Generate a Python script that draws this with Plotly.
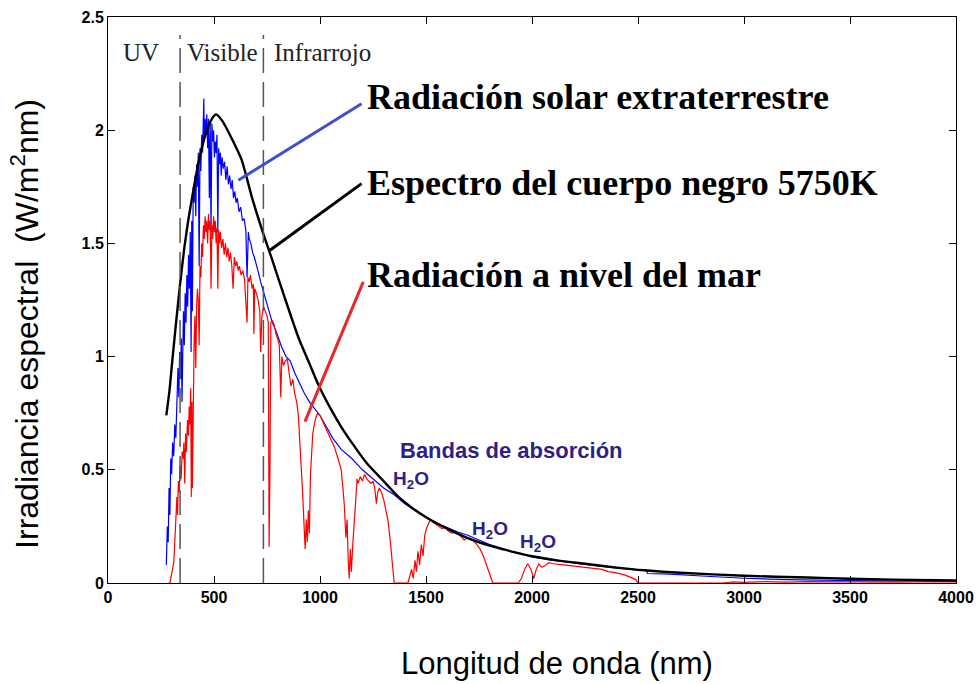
import plotly.graph_objects as go

# espectro del cuerpo negro 5750K
bb_nm = [275, 290, 300, 320, 340, 360, 380, 400, 430, 460, 490, 510, 540, 580, 630, 680, 730, 770, 830,
         900, 950, 990, 1050, 1100, 1150, 1220, 1300, 1370, 1430, 1510, 1600, 1680, 1750, 1830, 1900, 2000,
         2120, 2250, 2400, 2530, 2700, 3000, 3300, 3500, 3700, 4000]
bb_val = [0.74, 0.85, 0.95, 1.14, 1.32, 1.48, 1.61, 1.72, 1.87, 1.98, 2.05, 2.07, 2.04, 1.97, 1.87, 1.70,
          1.55, 1.44, 1.27, 1.08, 0.97, 0.88, 0.77, 0.69, 0.62, 0.53, 0.45, 0.38, 0.335, 0.285, 0.24,
          0.205, 0.18, 0.157, 0.14, 0.118, 0.10, 0.085, 0.068, 0.056, 0.045, 0.032, 0.024, 0.019, 0.015,
          0.011]

# radiacion solar extraterrestre
ext_nm = [275, 280, 284, 288, 292, 296, 300, 305, 310, 315, 320, 325, 330, 334, 338, 342, 346, 349, 352,
          356, 360, 364, 368, 372, 376, 380, 384, 388, 392, 395, 398, 402, 406, 410, 414, 418, 422, 426,
          430, 434, 438, 442, 446, 450, 452, 454, 458, 462, 466, 470, 474, 478, 482, 486, 490, 494, 498,
          502, 506, 510, 514, 518, 522, 526, 530, 534, 538, 544, 550, 556, 562, 568, 574, 580, 586, 592,
          598, 604, 610, 618, 626, 634, 642, 650, 656, 662, 666, 674, 682, 690, 700, 710, 720, 730, 740,
          750, 760, 775, 790, 805, 820, 840, 860, 880, 900, 925, 950, 975, 1000, 1030, 1060, 1100, 1150,
          1200, 1250, 1300, 1350, 1400, 1450, 1500, 1550, 1600, 1650, 1700, 1750, 1800, 1850, 1900, 1950,
          2000, 2100, 2200, 2300, 2400, 2500, 2540, 2545, 2650, 2800, 3000, 3200, 3400, 3600, 3800, 4000]
ext_val = [0.08, 0.25, 0.18, 0.42, 0.30, 0.55, 0.48, 0.62, 0.56, 0.70, 0.64, 0.78, 0.95, 0.82, 1.02, 0.90,
           1.08, 0.80, 1.12, 1.20, 1.05, 1.28, 1.15, 1.36, 1.22, 1.45, 1.30, 1.55, 1.02, 1.60, 1.20, 1.75,
           1.68, 1.80, 1.62, 1.85, 1.75, 1.90, 1.40, 1.92, 1.82, 1.98, 1.90, 2.08, 2.14, 1.95, 2.05, 1.98,
           2.07, 1.92, 2.05, 1.70, 2.04, 1.55, 2.03, 1.95, 2.00, 1.88, 1.95, 1.90, 1.98, 1.55, 1.92, 1.85,
           1.90, 1.80, 1.88, 1.83, 1.86, 1.78, 1.84, 1.76, 1.80, 1.74, 1.78, 1.70, 1.73, 1.68, 1.70, 1.64,
           1.66, 1.60, 1.61, 1.56, 1.35, 1.55, 1.52, 1.50, 1.46, 1.44, 1.41, 1.37, 1.33, 1.30, 1.27, 1.23,
           1.20, 1.15, 1.12, 1.08, 1.04, 1.00, 0.98, 0.93, 0.89, 0.84, 0.80, 0.77, 0.74, 0.69, 0.64, 0.59,
           0.55, 0.50, 0.46, 0.42, 0.39, 0.35, 0.32, 0.29, 0.265, 0.245, 0.225, 0.21, 0.19, 0.17, 0.155,
           0.14, 0.13, 0.115, 0.10, 0.088, 0.076, 0.066, 0.058, 0.055, 0.042, 0.039, 0.031, 0.021, 0.015,
           0.011, 0.009, 0.008, 0.007]

# radiacion a nivel del mar
sea_nm = [285, 292, 300, 310, 315, 320, 325, 328, 332, 336, 340, 345, 350, 355, 358, 362, 366, 370, 375,
          379, 383, 387, 390, 393, 396, 398, 402, 406, 410, 414, 418, 422, 426, 430, 434, 438, 442, 446,
          450, 454, 458, 462, 466, 470, 474, 478, 482, 486, 490, 494, 498, 502, 506, 510, 514, 518, 522,
          526, 530, 536, 542, 548, 554, 560, 566, 572, 578, 584, 590, 596, 602, 608, 614, 620, 628, 636,
          644, 650, 656, 660, 666, 672, 680, 686, 688, 692, 700, 708, 716, 720, 726, 734, 742, 750, 756,
          760, 764, 768, 776, 784, 792, 800, 808, 815, 820, 828, 836, 846, 854, 863, 872, 880, 890, 898,
          905, 910, 918, 925, 930, 935, 940, 945, 950, 955, 960, 966, 973, 980, 989, 1000, 1010, 1020,
          1036, 1050, 1068, 1085, 1100, 1108, 1115, 1122, 1128, 1133, 1138, 1143, 1148, 1154, 1160, 1165,
          1170, 1175, 1180, 1190, 1200, 1210, 1220, 1230, 1240, 1250, 1258, 1266, 1272, 1280, 1290, 1300,
          1310, 1320, 1330, 1340, 1350, 1415, 1425, 1432, 1440, 1448, 1455, 1462, 1470, 1478, 1486, 1494,
          1502, 1510, 1520, 1530, 1545, 1560, 1575, 1590, 1605, 1620, 1640, 1660, 1680, 1700, 1720, 1740,
          1755, 1770, 1785, 1800, 1815, 1935, 1950, 1965, 1980, 1995, 2008, 2020, 2032, 2045, 2060, 2080,
          2100, 2150, 2200, 2250, 2300, 2330, 2360, 2400, 2440, 2470, 2490, 2500, 2900, 2950, 3000, 3100,
          3200, 3300, 3400, 3500, 3600, 3700, 3800, 3900, 4000]
sea_val = [0.0, 0.0, 0.04, 0.09, 0.18, 0.28, 0.38, 0.30, 0.45, 0.40, 0.52, 0.46, 0.58, 0.55, 0.62, 0.44,
           0.66, 0.58, 0.72, 0.65, 0.78, 0.70, 0.86, 0.38, 0.80, 0.42, 0.98, 1.05, 1.18, 0.95, 1.22, 1.30,
           1.25, 1.05, 1.40, 1.35, 1.50, 1.44, 1.58, 1.52, 1.62, 1.55, 1.60, 1.50, 1.63, 1.56, 1.60, 1.30,
           1.58, 1.52, 1.62, 1.55, 1.60, 1.50, 1.57, 1.30, 1.56, 1.50, 1.55, 1.48, 1.52, 1.45, 1.50, 1.44,
           1.48, 1.42, 1.46, 1.40, 1.30, 1.44, 1.40, 1.42, 1.38, 1.40, 1.36, 1.38, 1.34, 1.24, 1.15, 1.35,
           1.33, 1.36, 1.30, 1.32, 1.10, 1.30, 1.28, 1.25, 1.20, 1.02, 1.18, 1.22, 1.20, 1.18, 1.15, 0.16,
           0.50, 1.15, 1.16, 1.14, 1.10, 1.08, 1.05, 0.82, 1.00, 0.96, 0.98, 0.99, 0.93, 0.87, 0.90, 0.84,
           0.80, 0.74, 0.62, 0.55, 0.40, 0.25, 0.15, 0.28, 0.18, 0.32, 0.22, 0.48, 0.58, 0.66, 0.70, 0.73,
           0.75, 0.74, 0.72, 0.70, 0.67, 0.64, 0.60, 0.55, 0.50, 0.42, 0.34, 0.20, 0.28, 0.10, 0.02, 0.15,
           0.05, 0.16, 0.26, 0.35, 0.38, 0.46, 0.44, 0.47, 0.45, 0.48, 0.46, 0.45, 0.44, 0.45, 0.42, 0.35,
           0.40, 0.42, 0.40, 0.37, 0.32, 0.28, 0.20, 0.10, 0.0, 0.0, 0.03, 0.06, 0.02, 0.10, 0.05, 0.14,
           0.08, 0.17, 0.12, 0.21, 0.24, 0.26, 0.28, 0.27, 0.26, 0.25, 0.24, 0.245, 0.23, 0.22, 0.225, 0.21,
           0.19, 0.20, 0.19, 0.17, 0.15, 0.12, 0.08, 0.04, 0.0, 0.0, 0.02, 0.06, 0.085, 0.06, 0.02, 0.06,
           0.085, 0.07, 0.075, 0.09, 0.085, 0.08, 0.075, 0.07, 0.065, 0.06, 0.05, 0.045, 0.035, 0.025,
           0.015, 0.0, 0.0, 0.005, 0.003, 0.006, 0.004, 0.006, 0.005, 0.004, 0.006, 0.004, 0.005, 0.004,
           0.005]

band_edges = [340, 733]
band_names = ["UV", "Visible", "Infrarrojo"]
band_x = [156, 538, 1014]

x_ticks = [0, 500, 1000, 1500, 2000, 2500, 3000, 3500, 4000]
y_ticks = [0, 0.5, 1, 1.5, 2, 2.5]

fig = go.Figure()
fig.add_trace(go.Scatter(x=ext_nm, y=ext_val, mode="lines", line=dict(color="#0000ff", width=1.2)))
fig.add_trace(go.Scatter(x=sea_nm, y=sea_val, mode="lines", line=dict(color="#ff0000", width=1.2)))
fig.add_trace(go.Scatter(x=bb_nm, y=bb_val, mode="lines",
                         line=dict(color="black", width=2.4, shape="spline", smoothing=0.6)))

# limites UV / visible / infrarrojo
for e in band_edges:
    fig.add_shape(type="line", x0=e, x1=e, y0=0, y1=2.42, line=dict(color="#555555", width=1.5, dash="25px,9px"))
for name, bx in zip(band_names, band_x):
    fig.add_annotation(x=bx, y=2.345, text=name, showarrow=False,
                       font=dict(family="Liberation Serif", size=25, color="#222222"))

# etiquetas grandes y lineas guia
big = dict(family="Liberation Serif", size=36, color="black", weight=700)
fig.add_annotation(x=1212, y=2.145, text="Radiación solar extraterrestre", xanchor="left", showarrow=False, font=big)
fig.add_annotation(x=1212, y=1.766, text="Espectro del cuerpo negro 5750K", xanchor="left", showarrow=False, font=big)
fig.add_annotation(x=1212, y=1.36, text="Radiación a nivel del mar", xanchor="left", showarrow=False, font=big)
fig.add_shape(type="line", x0=1196, y0=2.117, x1=615, y1=1.779, line=dict(color="#3f4fd0", width=3))
fig.add_shape(type="line", x0=1196, y0=1.764, x1=764, y1=1.47, line=dict(color="black", width=3))
fig.add_shape(type="line", x0=1204, y0=1.33, x1=929, y1=0.713, line=dict(color="#e8282c", width=3))

# bandas de absorcion
ind = dict(family="Liberation Sans", size=22, color="#2e1f86", weight=700)
fig.add_annotation(x=1901, y=0.584, text="Bandas de absorción", showarrow=False, font=ind)
h2o = dict(family="Liberation Sans", size=19, color="#2e1f86", weight=700)
fig.add_annotation(x=1429, y=0.455, text="H<sub>2</sub>O", showarrow=False, font=h2o)
fig.add_annotation(x=1802, y=0.234, text="H<sub>2</sub>O", showarrow=False, font=h2o)
fig.add_annotation(x=2028, y=0.177, text="H<sub>2</sub>O", showarrow=False, font=h2o)

# titulos de ejes
fig.add_annotation(xref="paper", yref="paper", x=0.53, y=-0.142, xanchor="center", yanchor="middle",
                   text="Longitud de onda (nm)", showarrow=False,
                   font=dict(family="Liberation Sans", size=31, color="black"))
fig.add_annotation(xref="paper", yref="paper", x=-0.098, y=0.4576, xanchor="center", yanchor="middle",
                   text="Irradiancia espectral&nbsp;&nbsp;(W/m<sup>2</sup>nm)", textangle=-90, showarrow=False,
                   font=dict(family="Liberation Sans", size=32, color="black"))

axis = dict(showgrid=False, zeroline=False, showline=True, linecolor="black", linewidth=1, mirror="ticks",
            ticks="inside", ticklen=7, tickcolor="black", automargin=False,
            tickfont=dict(family="Liberation Sans", size=16, color="black", weight=700))
fig.update_xaxes(range=[0, 4000], tickvals=x_ticks, ticktext=[str(v) for v in x_ticks], **axis)
fig.update_yaxes(range=[0, 2.5], tickvals=y_ticks, ticktext=["0", "0.5", "1", "1.5", "2", "2.5"], **axis)
fig.update_layout(width=978, height=684, margin=dict(l=108, r=22, t=17, b=101),
                  paper_bgcolor="white", plot_bgcolor="white", showlegend=False)
fig.write_html("out.html", config={"displayModeBar": False},
               post_script="document.body.style.margin='0';document.body.style.overflow='hidden';")
